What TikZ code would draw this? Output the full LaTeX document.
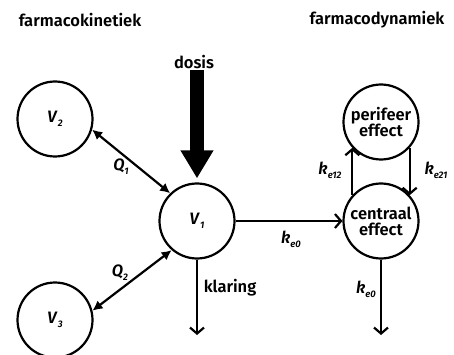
\documentclass[tikz,border=0pt]{standalone}
\usepackage{fontspec}
\setmainfont{Fira Sans}[UprightFont={* SemiBold}, ItalicFont={* SemiBold Italic}]
\usetikzlibrary{arrows.meta}
% lowered italic subscript used in the volume and rate labels
\newcommand\lowsub[1]{\raisebox{-4pt}{\fontsize{9.5}{10}\selectfont\itshape #1}}
\begin{document}
\begin{tikzpicture}[x=1pt,y=-1pt,
  comp/.style={circle,draw,line width=2.2pt,minimum size=75pt,inner sep=0pt,
    align=center,font=\fontsize{16.5}{19}\selectfont},
  txt/.style={inner sep=0pt,font=\fontsize{16.5}{19}\selectfont},
  flow/.style={line width=2.2pt,-{Straight Barb[length=6pt,width=14pt]}},
  exch/.style={line width=2.2pt,{Latex[length=10pt,width=10pt]}-{Latex[length=10pt,width=10pt]}},
  dose/.style={line width=14pt,-{Triangle[length=28pt,width=31pt]}}]
\useasboundingbox (0,0) rectangle (454,355);

% headings
\node[txt] (pk) at (80,20) {farmacokinetiek};
\node[txt] (pd) at (377,20) {farmacodynamiek};
\node[txt] (dosis) at (194,62) {dosis};

% compartments
\node[comp] (v2) at (55,119) {\textit{V}\lowsub{2}};
\node[comp] (v1) at (197,221) {\textit{V}\lowsub{1}};
\node[comp] (v3) at (55,320) {\textit{V}\lowsub{3}};
\node[comp] (per) at (381,122) {perifeer\\[-3pt]effect};
\node[comp] (cen) at (381,221) {centraal\\[-3pt]effect};

% free ends of the elimination arrows
\coordinate (kend) at (197,335);
\coordinate (cend) at (381,335);

% dose input
\draw[dose,shorten <=1pt,shorten >=4pt] (dosis.south -| v1) -- (v1.north);

% exchange between compartments
\draw[exch] (v2.-16) -- (v1.134);
\draw[exch] (v3.14) -- (v1.229);
\draw[flow] (v1) -- (cen);
\draw[flow] (v1) -- (kend);
\draw[flow] (cen) -- (cend);
\draw[flow] (cen.138) -- (per.222);
\draw[flow] (per.318) -- (cen.42);

% rate labels
\node[txt] (q1) at (121,167) {\textit{Q}\lowsub{1}};
\node[txt] (q2) at (120,273) {\textit{Q}\lowsub{2}};
\node[txt] (kl) at (230,288) {klaring};
\node[txt] (ke0a) at (291,239) {\textit{k}\lowsub{e0}};
\node[txt] (ke0b) at (366,289) {\textit{k}\lowsub{e0}};
\node[txt] (ke12) at (330,170) {\textit{k}\lowsub{e12}};
\node[txt] (ke21) at (436,170) {\textit{k}\lowsub{e21}};
\end{tikzpicture}
\end{document}
